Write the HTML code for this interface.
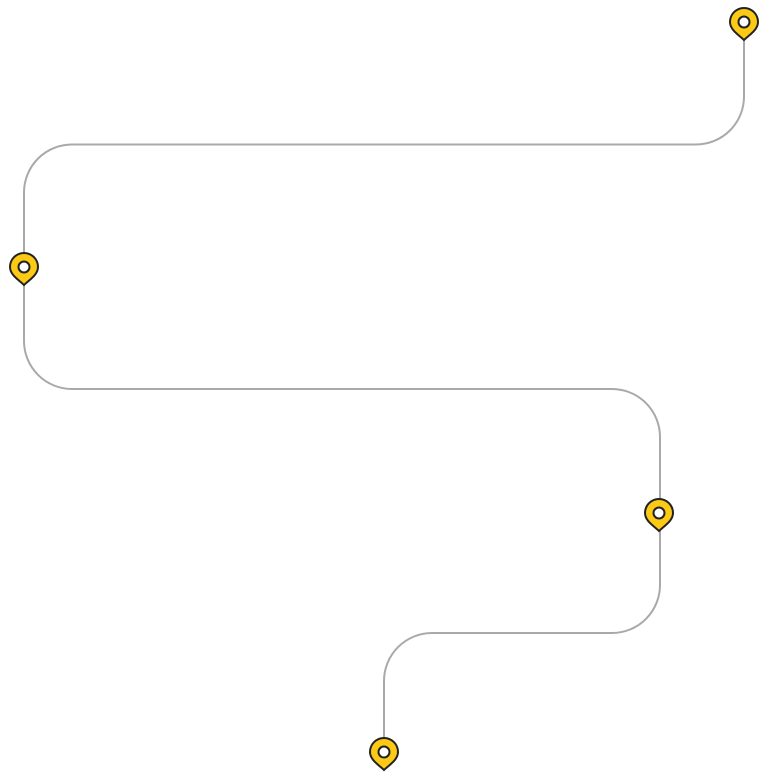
<!DOCTYPE html>
<html><head><style>html,body{margin:0;padding:0;background:#fff;width:769px;height:780px;overflow:hidden}</style></head>
<body>
<svg width="769" height="780" viewBox="0 0 769 780" xmlns="http://www.w3.org/2000/svg">
<defs>
<g id="pin">
<path d="M0,17 C-5,12 -14,7 -14,-1 A14,14 0 1 1 14,-1 C14,7 5,12 0,17 Z" fill="#fcc915" stroke="#222" stroke-width="2"/>
<circle cx="0" cy="-1" r="5.5" fill="#fff" stroke="#222" stroke-width="2"/>
</g>
</defs>
<path d="M744,38 V96 A48,48 0 0 1 696,144.5 H72 A48,48 0 0 0 24,192 V341 A48,48 0 0 0 72,389 H612 A48,48 0 0 1 660,437 V585 A48,48 0 0 1 612,633 H432 A48,48 0 0 0 384,681 V745" fill="none" stroke="#a9a9ad" stroke-width="2"/>
<use href="#pin" x="744" y="23"/>
<use href="#pin" x="24" y="268"/>
<use href="#pin" x="659" y="514"/>
<use href="#pin" x="384" y="753"/>
</svg>
</body></html>
